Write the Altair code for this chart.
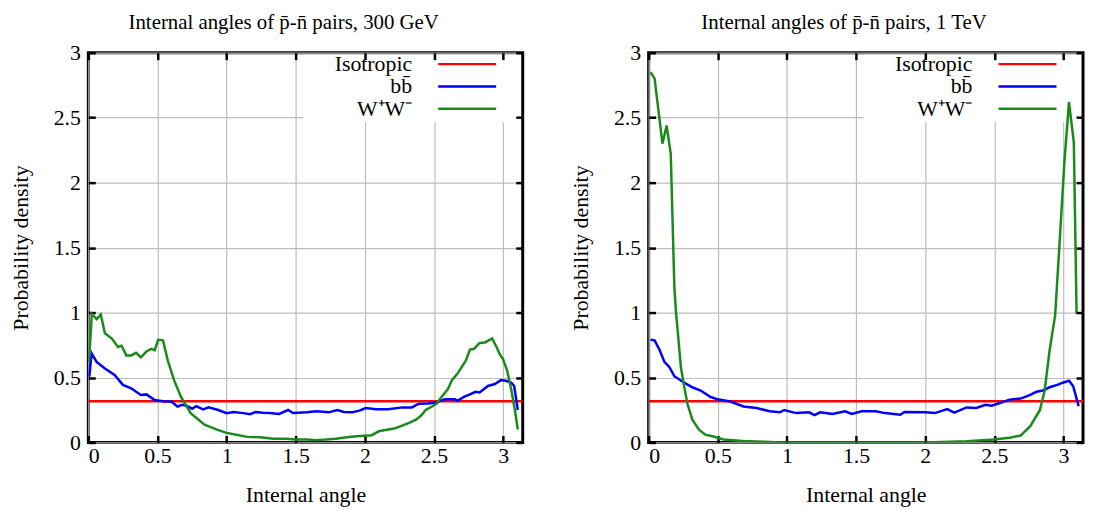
import altair as alt
import pandas as pd

# ---------------- data ----------------
XMAX = 3.1416

iso_x = [0.0, 3.1416]
iso_y = [0.318, 0.318]

# 300 GeV panel
bb300_x = [0.007, 0.024, 0.06, 0.12, 0.19, 0.25, 0.31, 0.38, 0.42, 0.478, 0.55, 0.60, 0.645, 0.68,
           0.717, 0.75, 0.78, 0.83, 0.87, 0.94, 1.0, 1.05, 1.12, 1.17, 1.21, 1.26, 1.31, 1.38, 1.445,
           1.48, 1.58, 1.65, 1.74, 1.80, 1.85, 1.91, 1.96, 2.007, 2.08, 2.17, 2.27, 2.34, 2.39, 2.46,
           2.52, 2.58, 2.65, 2.67, 2.72, 2.76, 2.80, 2.83, 2.89, 2.94, 2.985, 3.02, 3.06, 3.08, 3.106]
bb300_y = [0.506, 0.685, 0.62, 0.57, 0.52, 0.443, 0.417, 0.366, 0.37, 0.328, 0.315, 0.315, 0.277, 0.29,
           0.28, 0.26, 0.28, 0.255, 0.27, 0.25, 0.226, 0.235, 0.226, 0.218, 0.235, 0.228, 0.227, 0.22, 0.25,
           0.227, 0.232, 0.24, 0.232, 0.25, 0.235, 0.232, 0.245, 0.265, 0.255, 0.255, 0.27, 0.27, 0.298, 0.30,
           0.31, 0.333, 0.333, 0.32, 0.353, 0.37, 0.39, 0.385, 0.435, 0.45, 0.48, 0.475, 0.46, 0.435, 0.25]

ww300_x = [0.005, 0.025, 0.06, 0.09, 0.12, 0.17, 0.215, 0.24, 0.275, 0.31, 0.345, 0.38, 0.42, 0.455,
           0.48, 0.505, 0.54, 0.575, 0.62, 0.67, 0.74, 0.84, 0.93, 1.0, 1.07, 1.15, 1.24, 1.34, 1.43,
           1.50, 1.58, 1.65, 1.72, 1.79, 1.87, 1.94, 2.0, 2.05, 2.10, 2.17, 2.22, 2.27, 2.32, 2.37, 2.41,
           2.44, 2.485, 2.52, 2.557, 2.6, 2.63, 2.67, 2.70, 2.73, 2.76, 2.79, 2.83, 2.87, 2.92, 2.95,
           2.975, 3.0, 3.03, 3.06, 3.085, 3.106]
ww300_y = [0.62, 0.99, 0.95, 0.985, 0.84, 0.80, 0.735, 0.745, 0.67, 0.67, 0.69, 0.655, 0.70, 0.72,
           0.71, 0.79, 0.786, 0.63, 0.48, 0.35, 0.226, 0.137, 0.099, 0.074, 0.06, 0.043, 0.04, 0.028, 0.028,
           0.023, 0.022, 0.018, 0.022, 0.028, 0.04, 0.048, 0.052, 0.056, 0.086, 0.10, 0.11, 0.13, 0.15, 0.175, 0.21,
           0.25, 0.277, 0.30, 0.353, 0.41, 0.48, 0.53, 0.58, 0.63, 0.715, 0.72, 0.766, 0.77, 0.80, 0.74,
           0.68, 0.64, 0.55, 0.40, 0.25, 0.10]

# 1 TeV panel
bb1t_x = [0.014, 0.043, 0.08, 0.114, 0.15, 0.186, 0.257, 0.316, 0.376, 0.448, 0.507, 0.59, 0.686, 0.78,
          0.876, 0.95, 0.98, 1.067, 1.16, 1.20, 1.24, 1.33, 1.42, 1.47, 1.54, 1.64, 1.71, 1.82, 1.85,
          2.0, 2.07, 2.16, 2.21, 2.30, 2.37, 2.436, 2.48, 2.53, 2.61, 2.69, 2.76, 2.805, 2.85, 2.90,
          2.96, 2.995, 3.04, 3.07, 3.11]
bb1t_y = [0.79, 0.786, 0.71, 0.62, 0.58, 0.51, 0.46, 0.425, 0.40, 0.35, 0.33, 0.315, 0.277, 0.265,
          0.24, 0.232, 0.25, 0.226, 0.232, 0.21, 0.232, 0.22, 0.24, 0.22, 0.24, 0.24, 0.226, 0.214, 0.235,
          0.232, 0.226, 0.257, 0.23, 0.27, 0.265, 0.29, 0.283, 0.30, 0.33, 0.338, 0.366, 0.39, 0.40, 0.425,
          0.445, 0.46, 0.475, 0.435, 0.28]

ww1t_x = [0.014, 0.043, 0.10, 0.13, 0.16, 0.186, 0.198, 0.21, 0.233, 0.257, 0.28, 0.316, 0.364, 0.41,
          0.47, 0.54, 0.68, 0.84, 0.96, 1.2, 1.6, 2.0, 2.30, 2.495, 2.61, 2.69, 2.76, 2.83, 2.864, 2.90,
          2.94, 2.97, 3.007, 3.04, 3.075, 3.095]
ww1t_y = [2.85, 2.80, 2.30, 2.44, 2.22, 1.19, 1.0, 0.86, 0.58, 0.43, 0.30, 0.175, 0.099, 0.06,
          0.046, 0.023, 0.012, 0.005, 0.0, 0.0, 0.0, 0.0, 0.01, 0.023, 0.036, 0.053, 0.125, 0.25, 0.40, 0.71,
          0.98, 1.50, 2.16, 2.62, 2.31, 0.99]

series_names = ["Isotropic", "bb\u0304", "W\u207aW\u207b"]
series_colors = ["#ff0000", "#0000ff", "#1a8a1a"]
tick_vals = [0, 0.5, 1, 1.5, 2, 2.5, 3]

titles = ["Internal angles of p\u0304-n\u0304 pairs, 300 GeV",
          "Internal angles of p\u0304-n\u0304 pairs, 1 TeV"]

FONT = "Liberation Serif"
W, H = 438, 393


def make_df(bx, by, wx, wy):
    rows = []
    for x, y in zip(iso_x, iso_y):
        rows.append((series_names[0], x, y))
    for x, y in zip(bx, by):
        rows.append((series_names[1], x, y))
    for x, y in zip(wx, wy):
        rows.append((series_names[2], x, y))
    return pd.DataFrame(rows, columns=["series", "angle", "density"])


def panel(df, title):
    xs = alt.Scale(domain=[0, XMAX], nice=False, zero=False)
    ys = alt.Scale(domain=[0, 3], nice=False)
    one = pd.DataFrame({"k": [0]})

    bg = alt.Chart(one).mark_rect(fill="white", color="white").encode(
        x=alt.value(W - 221), x2=alt.value(W - 2), y=alt.value(2), y2=alt.value(70)
    )

    head = alt.Chart(one).mark_text(
        font=FONT, fontSize=21, color="black", align="center", baseline="alphabetic"
    ).encode(x=alt.value(W / 2 - 22), y=alt.value(-24), text=alt.value(title))

    lines = alt.Chart(df).mark_line(strokeWidth=2.5, clip=True).encode(
        x=alt.X("angle:Q", scale=xs, axis=alt.Axis(
            title="Internal angle", values=tick_vals, format="~g", offset=-7,
            labelPadding=3, titlePadding=19, grid=True)),
        y=alt.Y("density:Q", scale=ys, axis=alt.Axis(
            title="Probability density", values=tick_vals, format="~g", offset=-7,
            labelPadding=8, titlePadding=21, grid=True)),
        color=alt.Color("series:N",
                        scale=alt.Scale(domain=series_names, range=series_colors),
                        legend=alt.Legend(
                            title=None, orient="none", legendX=360, legendY=0.5,
                            direction="vertical", symbolType="M-3,0L3,0", symbolSize=380,
                            symbolStrokeWidth=2.5, symbolOffset=11, rowPadding=0.5,
                            labelAlign="right", labelOffset={"expr": "-66.5"}, labelFont=FONT,
                            labelFontSize=22, labelColor="black", padding=0)),
    )

    mirror = alt.Chart(df).mark_line(opacity=0).encode(
        x=alt.X("angle:Q", scale=xs, axis=alt.Axis(
            orient="top", title=None, labels=False, grid=False, values=tick_vals,
            offset=-7, zindex=1)),
        y=alt.Y("density:Q", scale=ys, axis=alt.Axis(
            orient="right", title=None, labels=False, grid=False, values=tick_vals,
            offset=-7, zindex=1)),
    )

    return alt.layer(bg, lines, mirror, head).resolve_axis(
        x="independent", y="independent"
    ).properties(width=W, height=H)


left = panel(make_df(bb300_x, bb300_y, ww300_x, ww300_y), titles[0])
right = panel(make_df(bb1t_x, bb1t_y, ww1t_x, ww1t_y), titles[1])

chart = alt.hconcat(left, right, spacing=43).resolve_scale(
    color="independent"
).resolve_legend(color="independent").properties(
    padding={"left": 0, "top": 0, "right": 0, "bottom": 0},
    background="white",
).configure_view(
    stroke="black", strokeWidth=3
).configure_axis(
    labelFont=FONT, labelFontSize=22, labelColor="black",
    titleFont=FONT, titleFontSize=22, titleFontWeight="normal", titleColor="black",
    domain=False, ticks=True, tickSize=7, tickWidth=2.5, tickColor="black",
    gridColor="#bdbdbd", gridWidth=1.2, gridOpacity=1,
)

chart.save("out.html", embed_options={"renderer": "svg", "actions": False})
